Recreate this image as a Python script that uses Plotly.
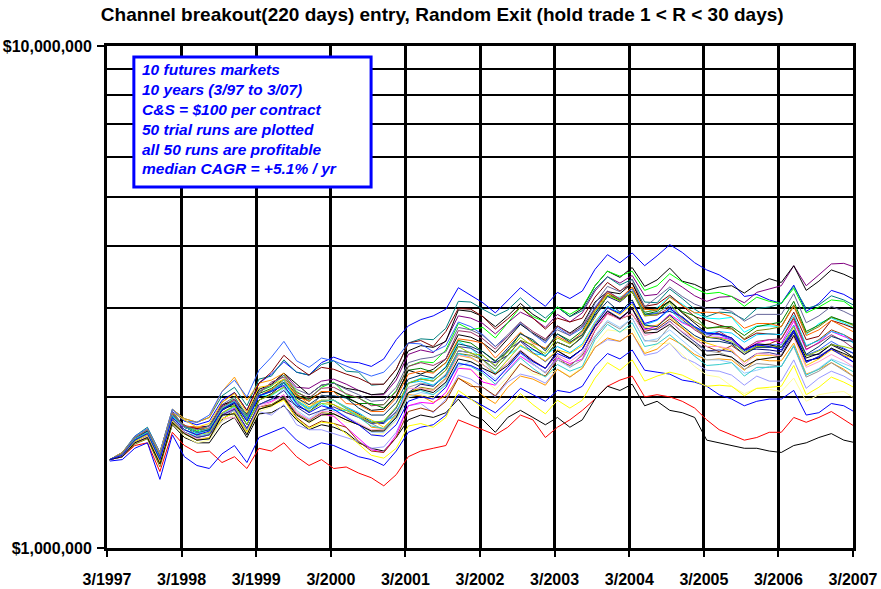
import plotly.graph_objects as go
import pandas as pd

# equity of each trial run in $ millions, sampled every two months from 3/1997
dates = pd.date_range("1997-03-15", periods=61, freq=pd.DateOffset(months=2))

year_ticks = pd.date_range("1997-03-01", periods=11, freq=pd.DateOffset(years=1))
year_labels = [f"3/{d.year}" for d in year_ticks]

run_01 = [1.50,1.55,1.66,1.72,1.55,1.87,1.79,1.76,1.79,1.97,2.04,1.88,2.13,2.22,2.35,2.24,2.21,2.34,2.40,2.35,2.34,2.30,2.38,2.60,2.77,2.85,2.90,2.99,3.30,3.19,3.08,2.94,3.12,3.30,3.16,3.03,3.23,3.14,3.25,3.59,3.84,3.70,3.87,3.65,3.82,4.02,3.88,3.70,3.58,3.50,3.38,3.17,3.20,3.12,3.07,3.34,2.96,3.07,3.26,3.20,3.10]
run_02 = [1.50,1.53,1.66,1.71,1.52,1.86,1.75,1.74,1.75,1.92,1.98,1.83,2.05,2.12,2.23,2.09,2.08,2.15,2.17,2.12,2.06,2.02,2.02,2.16,2.43,2.48,2.45,2.59,2.90,2.87,2.80,2.67,2.81,2.95,2.87,2.75,2.92,2.82,2.94,3.25,3.47,3.37,3.49,3.18,3.20,3.43,3.31,3.18,3.10,3.16,3.17,3.08,3.23,3.28,3.33,3.65,3.33,3.50,3.68,3.69,3.62]
run_03 = [1.50,1.53,1.66,1.71,1.52,1.86,1.75,1.73,1.75,1.93,1.96,1.85,2.07,2.12,2.23,2.12,2.02,2.11,2.13,2.08,2.06,2.02,2.03,2.20,2.47,2.53,2.51,2.58,2.98,2.96,2.89,2.76,2.90,3.07,2.92,2.82,3.02,2.89,3.00,3.33,3.56,3.46,3.62,3.32,3.42,3.61,3.40,3.35,3.26,3.31,3.33,3.22,3.35,3.44,3.38,3.65,3.26,3.40,3.58,3.51,3.42]
run_04 = [1.50,1.55,1.67,1.74,1.55,1.89,1.81,1.78,1.82,2.01,2.09,1.92,2.17,2.20,2.37,2.24,2.21,2.32,2.36,2.25,2.24,2.11,2.12,2.27,2.56,2.61,2.60,2.74,3.10,3.09,2.99,2.90,2.98,3.15,2.99,2.87,3.02,2.89,2.97,3.28,3.47,3.34,3.43,3.09,3.08,3.28,3.14,2.99,2.89,2.95,2.94,2.85,3.00,3.02,3.07,3.32,3.00,3.05,3.18,3.12,3.03]
run_05 = [1.50,1.53,1.64,1.71,1.52,1.86,1.75,1.71,1.75,1.88,2.00,1.83,2.05,2.10,2.21,2.05,1.98,2.09,2.14,2.02,1.99,1.93,1.93,2.06,2.30,2.35,2.34,2.48,2.80,2.72,2.75,2.62,2.81,3.02,2.89,2.82,3.02,2.92,3.02,3.33,3.56,3.48,3.56,3.26,3.33,3.52,3.39,3.29,3.21,3.23,3.17,3.03,3.16,3.10,3.07,3.29,2.94,3.02,3.12,3.10,2.98]
run_06 = [1.50,1.52,1.60,1.62,1.42,1.70,1.60,1.55,1.56,1.48,1.52,1.44,1.58,1.56,1.62,1.52,1.46,1.50,1.44,1.45,1.41,1.38,1.33,1.40,1.52,1.56,1.58,1.60,1.80,1.76,1.72,1.68,1.74,1.84,1.80,1.66,1.74,1.80,1.88,1.98,2.10,2.16,2.20,2.00,2.02,2.00,1.96,1.90,1.80,1.72,1.68,1.64,1.66,1.70,1.70,1.82,1.78,1.82,1.87,1.80,1.74]
run_07 = [1.50,1.54,1.62,1.66,1.47,1.76,1.66,1.62,1.62,1.76,1.82,1.66,1.85,1.86,1.92,1.80,1.72,1.76,1.74,1.70,1.62,1.58,1.56,1.66,1.80,1.84,1.82,1.86,1.98,1.84,1.80,1.70,1.82,1.88,1.82,1.76,1.82,1.74,1.80,1.98,2.10,2.06,2.12,1.92,1.96,1.88,1.86,1.82,1.64,1.62,1.60,1.58,1.58,1.56,1.55,1.60,1.62,1.66,1.69,1.64,1.62]
run_08 = [1.49,1.50,1.58,1.62,1.37,1.68,1.52,1.46,1.44,1.54,1.60,1.48,1.66,1.70,1.74,1.64,1.58,1.62,1.60,1.56,1.52,1.50,1.46,1.56,1.70,1.74,1.76,1.84,2.02,1.98,1.92,1.86,1.96,2.08,2.02,1.96,2.06,2.04,2.10,2.30,2.44,2.38,2.48,2.26,2.24,2.22,2.16,2.14,2.10,2.02,1.98,1.92,1.96,1.98,1.98,2.06,1.84,1.86,1.94,1.92,1.86]
run_09 = [1.50,1.53,1.62,1.67,1.49,1.78,1.69,1.64,1.65,1.79,1.84,1.68,1.87,1.84,1.93,1.76,1.72,1.72,1.69,1.66,1.63,1.58,1.59,1.70,1.92,1.94,1.86,1.98,2.21,2.17,2.09,2.00,2.14,2.22,2.19,2.13,2.27,2.19,2.28,2.51,2.60,2.58,2.68,2.42,2.45,2.56,2.40,2.34,2.26,2.25,2.21,2.11,2.20,2.15,2.15,2.37,2.08,2.18,2.25,2.20,2.13]
run_10 = [1.50,1.52,1.62,1.66,1.47,1.77,1.67,1.62,1.64,1.79,1.84,1.68,1.87,1.91,1.98,1.88,1.77,1.84,1.83,1.78,1.78,1.68,1.69,1.79,2.00,2.02,1.99,2.12,2.30,2.26,2.18,2.07,2.19,2.33,2.22,2.20,2.27,2.20,2.29,2.54,2.72,2.70,2.75,2.45,2.55,2.56,2.43,2.30,2.21,2.19,2.10,2.03,2.08,2.07,2.05,2.18,1.96,2.02,2.04,2.05,1.98]
run_11 = [1.50,1.55,1.66,1.72,1.55,1.89,1.81,1.78,1.82,2.05,2.19,1.97,2.13,2.16,2.23,2.03,1.93,1.97,1.93,1.86,1.84,1.74,1.73,1.82,2.02,2.01,1.95,2.01,2.18,2.12,2.01,1.94,2.09,2.20,2.17,2.11,2.27,2.19,2.28,2.51,2.62,2.58,2.68,2.44,2.49,2.62,2.54,2.43,2.37,2.38,2.37,2.26,2.38,2.36,2.36,2.56,2.22,2.27,2.34,2.27,2.18]
run_12 = [1.50,1.53,1.64,1.69,1.50,1.86,1.72,1.68,1.74,1.84,1.90,1.73,1.93,1.96,2.02,1.86,1.80,1.85,1.83,1.74,1.66,1.57,1.55,1.68,1.92,1.95,1.94,2.04,2.28,2.27,2.14,2.11,2.26,2.41,2.32,2.24,2.39,2.33,2.38,2.72,2.94,2.85,3.00,2.72,2.77,2.92,2.81,2.74,2.63,2.63,2.60,2.48,2.56,2.60,2.56,2.83,2.48,2.57,2.70,2.64,2.58]
run_13 = [1.50,1.53,1.63,1.68,1.49,1.80,1.70,1.67,1.69,1.85,1.91,1.76,2.02,2.01,2.09,1.93,1.87,1.94,1.88,1.88,1.84,1.78,1.79,1.90,2.13,2.18,2.17,2.30,2.58,2.50,2.37,2.27,2.42,2.52,2.48,2.41,2.57,2.51,2.63,2.94,3.17,3.16,3.24,2.94,3.01,3.17,3.06,2.94,2.87,2.86,2.88,2.69,2.77,2.77,2.76,3.04,2.66,2.80,2.87,2.81,2.73]
run_14 = [1.50,1.53,1.65,1.71,1.52,1.85,1.75,1.73,1.72,1.95,2.04,1.88,2.13,2.24,2.42,2.30,2.21,2.29,2.27,2.22,2.18,2.12,2.12,2.27,2.56,2.59,2.52,2.70,3.00,2.99,2.89,2.73,2.86,3.02,2.87,2.73,2.87,2.82,2.87,3.16,3.38,3.25,3.37,3.03,3.06,3.19,3.04,2.89,2.84,2.78,2.74,2.60,2.68,2.67,2.66,2.95,2.60,2.64,2.84,2.79,2.73]
run_15 = [1.50,1.53,1.63,1.68,1.49,1.80,1.70,1.66,1.68,1.80,1.89,1.73,1.93,1.98,2.00,1.92,1.87,1.96,1.97,1.90,1.85,1.78,1.77,1.87,2.04,2.12,2.10,2.21,2.47,2.45,2.37,2.34,2.42,2.59,2.49,2.41,2.57,2.51,2.63,2.93,3.17,3.09,3.24,2.91,2.93,2.96,2.89,2.76,2.63,2.61,2.56,2.48,2.49,2.48,2.46,2.71,2.42,2.43,2.55,2.49,2.43]
run_16 = [1.50,1.53,1.64,1.69,1.50,1.81,1.76,1.67,1.68,1.83,1.88,1.71,1.91,1.93,1.98,1.82,1.74,1.79,1.77,1.74,1.63,1.56,1.55,1.66,1.87,1.90,1.87,1.96,2.18,2.10,2.09,2.01,2.16,2.33,2.25,2.20,2.37,2.31,2.42,2.71,2.93,2.86,2.92,2.70,2.74,2.86,2.74,2.61,2.52,2.46,2.53,2.43,2.53,2.55,2.61,2.88,2.52,2.60,2.72,2.66,2.58]
run_17 = [1.50,1.52,1.63,1.68,1.49,1.80,1.70,1.66,1.69,1.85,1.92,1.70,1.97,2.02,2.10,1.95,1.89,2.02,1.97,1.90,1.84,1.77,1.72,1.86,2.09,2.13,2.11,2.22,2.47,2.45,2.37,2.23,2.33,2.46,2.33,2.23,2.41,2.29,2.37,2.63,2.82,2.73,2.87,2.59,2.58,2.77,2.66,2.55,2.47,2.45,2.40,2.27,2.33,2.32,2.30,2.52,2.19,2.25,2.34,2.26,2.18]
run_18 = [1.50,1.52,1.61,1.65,1.45,1.77,1.69,1.64,1.66,1.81,1.86,1.70,1.89,1.93,2.00,1.85,1.79,1.86,1.85,1.80,1.76,1.71,1.72,1.83,2.04,2.09,2.07,2.18,2.44,2.42,2.37,2.27,2.42,2.59,2.54,2.41,2.57,2.51,2.64,2.88,3.19,3.12,3.31,2.95,2.98,3.11,2.95,2.83,2.74,2.75,2.73,2.61,2.71,2.73,2.76,3.05,2.68,2.76,2.88,2.83,2.76]
run_19 = [1.50,1.54,1.67,1.73,1.55,1.89,1.79,1.78,1.84,2.05,2.16,2.00,2.26,2.40,2.58,2.36,2.29,2.39,2.36,2.30,2.25,2.20,2.24,2.38,2.56,2.55,2.46,2.53,2.82,2.76,2.66,2.52,2.64,2.80,2.67,2.56,2.75,2.65,2.74,3.02,3.25,3.13,3.28,2.92,2.94,3.04,2.88,2.75,2.66,2.66,2.60,2.46,2.54,2.54,2.54,2.78,2.42,2.48,2.58,2.50,2.43]
run_20 = [1.50,1.54,1.65,1.71,1.52,1.84,1.74,1.70,1.73,1.90,1.92,1.81,2.03,2.08,2.17,2.02,1.96,2.05,2.05,1.99,1.94,1.94,1.90,2.01,2.26,2.28,2.24,2.34,2.59,2.56,2.46,2.36,2.46,2.68,2.58,2.49,2.67,2.59,2.71,3.00,3.22,3.11,3.24,2.92,2.96,3.10,2.96,2.90,2.74,2.76,2.76,2.65,2.76,2.79,2.82,3.10,2.70,2.78,2.89,2.83,2.78]
run_21 = [1.50,1.53,1.64,1.69,1.50,1.82,1.72,1.67,1.68,1.83,1.88,1.72,1.93,1.97,2.08,1.88,1.81,1.88,1.89,1.83,1.77,1.70,1.70,1.80,2.00,2.04,2.02,2.13,2.30,2.35,2.28,2.17,2.29,2.44,2.32,2.24,2.37,2.29,2.44,2.65,2.84,2.75,2.87,2.58,2.61,2.72,2.59,2.47,2.37,2.37,2.34,2.23,2.26,2.30,2.30,2.53,2.21,2.28,2.38,2.33,2.28]
run_22 = [1.50,1.53,1.65,1.70,1.51,1.84,1.74,1.70,1.72,1.88,1.94,1.76,1.97,2.03,2.13,1.99,1.98,2.04,2.05,2.00,1.94,1.88,1.89,2.01,2.26,2.22,2.27,2.38,2.66,2.63,2.56,2.45,2.61,2.79,2.68,2.59,2.77,2.68,2.79,3.09,3.24,3.21,3.37,2.99,3.00,3.10,2.94,2.81,2.68,2.67,2.62,2.48,2.55,2.54,2.51,2.68,2.39,2.44,2.54,2.47,2.38]
run_23 = [1.50,1.54,1.66,1.72,1.53,1.85,1.75,1.74,1.73,1.90,1.96,1.80,2.01,2.07,2.16,2.01,1.96,2.05,2.05,1.94,1.93,1.87,1.87,1.99,2.22,2.25,2.23,2.34,2.61,2.59,2.56,2.39,2.53,2.69,2.56,2.50,2.64,2.56,2.69,2.97,3.22,3.14,3.31,2.99,2.98,3.16,3.04,2.94,2.95,2.94,2.89,2.74,2.80,2.80,2.76,3.03,2.65,2.72,2.84,2.76,2.68]
run_24 = [1.50,1.53,1.64,1.70,1.50,1.83,1.72,1.69,1.72,1.89,1.96,1.82,2.01,2.05,2.13,1.97,1.90,1.97,1.97,1.91,1.86,1.79,1.78,1.84,2.13,2.15,2.11,2.20,2.44,2.40,2.32,2.23,2.37,2.53,2.44,2.42,2.52,2.45,2.55,2.82,3.03,2.94,3.06,2.78,2.84,2.99,2.82,2.76,2.68,2.70,2.68,2.57,2.66,2.67,2.66,2.91,2.53,2.59,2.70,2.66,2.53]
run_25 = [1.50,1.54,1.66,1.71,1.52,1.84,1.74,1.70,1.73,1.91,1.97,1.81,2.03,2.14,2.19,2.04,1.99,2.08,2.09,2.03,1.99,1.92,1.93,2.05,2.30,2.34,2.31,2.38,2.71,2.69,2.61,2.49,2.64,2.82,2.70,2.61,2.77,2.67,2.76,3.00,3.25,3.13,3.24,2.90,2.91,3.01,2.85,2.72,2.63,2.70,2.61,2.49,2.58,2.60,2.61,2.86,2.49,2.56,2.66,2.58,2.48]
run_26 = [1.50,1.52,1.63,1.68,1.49,1.80,1.70,1.66,1.68,1.84,1.89,1.73,1.93,1.98,2.06,1.91,1.84,1.88,1.91,1.86,1.82,1.77,1.78,1.90,2.13,2.17,2.15,2.26,2.52,2.50,2.42,2.30,2.48,2.58,2.45,2.35,2.47,2.39,2.49,2.76,2.97,2.87,3.00,2.74,2.72,2.83,2.69,2.58,2.47,2.48,2.46,2.35,2.44,2.45,2.42,2.69,2.34,2.41,2.50,2.42,2.33]
run_27 = [1.50,1.54,1.66,1.72,1.54,1.86,1.80,1.74,1.77,1.95,2.03,1.86,2.09,2.11,2.17,1.99,1.91,1.97,1.97,1.90,1.84,1.80,1.74,1.84,2.04,2.08,2.06,2.17,2.42,2.39,2.32,2.22,2.37,2.54,2.44,2.36,2.48,2.44,2.53,2.80,3.01,2.91,3.06,2.75,2.78,2.89,2.75,2.62,2.56,2.51,2.47,2.35,2.42,2.42,2.41,2.65,2.31,2.38,2.48,2.42,2.38]
run_28 = [1.50,1.53,1.64,1.69,1.50,1.82,1.72,1.68,1.70,1.86,1.92,1.76,1.97,2.02,2.09,1.98,1.87,1.94,1.93,1.88,1.83,1.78,1.79,1.91,2.13,2.17,2.15,2.26,2.52,2.44,2.42,2.31,2.46,2.63,2.52,2.44,2.62,2.55,2.66,2.96,3.19,3.10,3.24,2.90,2.92,3.08,2.87,2.75,2.63,2.62,2.58,2.45,2.52,2.52,2.51,2.76,2.41,2.47,2.54,2.52,2.48]
run_29 = [1.50,1.52,1.62,1.67,1.48,1.79,1.70,1.65,1.66,1.81,1.82,1.70,1.91,1.95,2.02,1.86,1.80,1.87,1.87,1.82,1.77,1.72,1.72,1.83,2.08,2.08,2.06,2.17,2.42,2.40,2.32,2.21,2.34,2.48,2.37,2.28,2.42,2.35,2.45,2.72,2.92,2.86,2.93,2.65,2.69,2.82,2.70,2.61,2.52,2.52,2.49,2.32,2.44,2.43,2.41,2.63,2.29,2.35,2.43,2.36,2.28]
run_30 = [1.50,1.54,1.65,1.71,1.52,1.84,1.74,1.70,1.72,1.89,1.95,1.79,2.01,2.06,2.14,1.99,1.93,2.01,2.01,1.99,1.90,1.84,1.84,1.95,2.17,2.21,2.18,2.29,2.55,2.52,2.46,2.35,2.50,2.67,2.60,2.47,2.67,2.57,2.66,2.91,3.10,2.95,3.12,2.78,2.76,2.91,2.77,2.65,2.58,2.58,2.55,2.43,2.51,2.51,2.51,2.72,2.43,2.52,2.64,2.59,2.58]
run_31 = [1.50,1.53,1.63,1.68,1.48,1.79,1.69,1.64,1.66,1.81,1.86,1.70,1.89,1.92,1.97,1.81,1.73,1.78,1.77,1.69,1.61,1.53,1.51,1.58,1.75,1.77,1.74,1.82,2.06,1.98,1.90,1.81,1.91,2.03,1.93,1.85,1.97,1.90,1.97,2.18,2.34,2.26,2.37,2.15,2.20,2.24,2.21,2.15,2.10,2.11,2.10,2.01,2.08,2.09,2.10,2.31,2.02,2.09,2.19,2.14,2.08]
run_32 = [1.50,1.54,1.65,1.70,1.51,1.84,1.74,1.70,1.73,1.90,1.96,1.80,2.01,2.05,2.16,1.96,1.89,1.96,1.97,1.89,1.82,1.75,1.73,1.82,2.04,2.06,2.02,2.11,2.34,2.30,2.23,2.12,2.25,2.39,2.28,2.19,2.32,2.25,2.30,2.60,2.79,2.69,2.81,2.52,2.55,2.66,2.53,2.41,2.31,2.32,2.34,2.20,2.29,2.29,2.30,2.53,2.21,2.27,2.37,2.30,2.23]
run_33 = [1.50,1.54,1.66,1.72,1.53,1.86,1.75,1.72,1.75,1.93,2.00,1.84,2.05,2.11,2.21,2.07,2.02,2.11,2.13,2.07,2.02,1.96,1.97,2.09,2.34,2.38,2.40,2.46,2.75,2.72,2.65,2.52,2.66,2.82,2.67,2.58,2.72,2.65,2.77,3.07,3.32,3.24,3.43,3.02,3.16,3.31,3.17,3.06,3.00,3.00,2.96,2.83,2.92,2.92,2.92,3.21,2.81,2.90,3.03,2.96,2.88]
run_34 = [1.50,1.52,1.62,1.66,1.47,1.78,1.69,1.64,1.65,1.84,1.85,1.68,1.89,1.92,1.99,1.84,1.78,1.84,1.85,1.80,1.76,1.71,1.71,1.82,2.04,2.07,2.04,2.14,2.38,2.35,2.28,2.22,2.31,2.47,2.36,2.28,2.47,2.39,2.49,2.76,2.96,2.86,3.00,2.68,2.69,2.79,2.65,2.54,2.42,2.43,2.40,2.30,2.37,2.39,2.41,2.65,2.36,2.39,2.50,2.44,2.38]
run_35 = [1.50,1.53,1.64,1.69,1.50,1.82,1.72,1.68,1.71,1.88,1.95,1.79,2.01,2.05,2.11,1.94,1.86,1.92,1.89,1.82,1.76,1.68,1.67,1.76,1.96,2.00,1.98,2.09,2.33,2.31,2.25,2.15,2.29,2.45,2.35,2.28,2.44,2.38,2.49,2.78,3.01,2.93,3.09,2.80,2.85,3.00,2.88,2.76,2.68,2.67,2.62,2.48,2.54,2.52,2.48,2.71,2.35,2.40,2.49,2.41,2.33]

runs = [run_01, run_02, run_03, run_04, run_05, run_06, run_07, run_08, run_09, run_10,
        run_11, run_12, run_13, run_14, run_15, run_16, run_17, run_18, run_19, run_20,
        run_21, run_22, run_23, run_24, run_25, run_26, run_27, run_28, run_29, run_30,
        run_31, run_32, run_33, run_34, run_35]

colors = ["#0000FF", "#800080", "#000000", "#008080", "#00FF00", "#FF0000", "#000000",
          "#0000FF", "#9999FF", "#FFFF99", "#FF9900", "#FF00FF", "#00FFFF", "#800000",
          "#000080", "#993300", "#969696", "#808000", "#3366FF", "#008000", "#99CCFF",
          "#000000", "#FF6600", "#00CCFF", "#993366", "#333399", "#FFCC00", "#99CC00",
          "#FF99CC", "#003366", "#FFFF00", "#33CCCC", "#666699", "#000000", "#0000FF"]

notes = ["10 futures markets", "10 years (3/97 to 3/07)", "C&S = $100 per contract",
         "50 trial runs are plotted", "all 50 runs are profitable", "median CAGR = +5.1% / yr"]

fig = go.Figure()
for values, color in zip(runs, colors):
    fig.add_trace(go.Scatter(x=dates[:len(values)], y=values, mode="lines",
                             line=dict(color=color, width=1), hoverinfo="skip"))

font = "Liberation Sans, Arial, sans-serif"
fig.update_layout(
    width=881, height=589,
    margin=dict(l=107, r=28, t=46, b=41),
    paper_bgcolor="white", plot_bgcolor="white",
    showlegend=False,
    title=dict(text="Channel breakout(220 days) entry, Random Exit (hold trade 1 < R < 30 days)",
               x=0.502, xanchor="center", y=0.975, yanchor="middle",
               font=dict(family=font, size=19, color="black", weight="bold")),
)
fig.update_xaxes(
    type="date", range=["1997-03-01", "2007-03-01"],
    tickvals=year_ticks, ticktext=year_labels,
    ticks="outside", ticklen=6, tickwidth=2, tickcolor="black",
    ticklabelstandoff=9,
    tickfont=dict(family=font, size=16, color="black", weight="bold"),
    showgrid=True, gridcolor="black", gridwidth=3,
    showline=True, linecolor="black", linewidth=3, mirror=True,
    zeroline=False, automargin=False,
)
fig.update_yaxes(
    type="log", range=[0, 1],
    tickvals=[1, 10], ticktext=["$1,000,000", "$10,000,000"],
    ticks="outside", ticklen=7, tickwidth=2, tickcolor="black",
    ticklabelstandoff=2,
    tickfont=dict(family=font, size=16, color="black", weight="bold"),
    showgrid=False,
    minor=dict(tickmode="array", tickvals=[2, 3, 4, 5, 6, 7, 8, 9], ticks="",
               showgrid=True, gridcolor="black", gridwidth=1.5),
    showline=True, linecolor="black", linewidth=3, mirror=True,
    zeroline=False, automargin=False,
)

fig.add_shape(type="rect", xref="paper", yref="paper", x0=0.036, x1=0.354, y0=0.719, y1=0.978,
              line=dict(color="#0000FF", width=3), fillcolor="white", layer="above")
for i, line in enumerate(notes):
    fig.add_annotation(xref="paper", yref="paper", x=0.044, y=0.954 - i * 0.0398,
                       xanchor="left", yanchor="middle", showarrow=False, text=line,
                       font=dict(family=font, size=15.5, color="#0000FF", weight="bold", style="italic"))

# drop the browser's default 8px body margin so the figure fills the window
fig.write_html("out.html", config={"displayModeBar": False},
               post_script="document.body.style.margin = '0';")
